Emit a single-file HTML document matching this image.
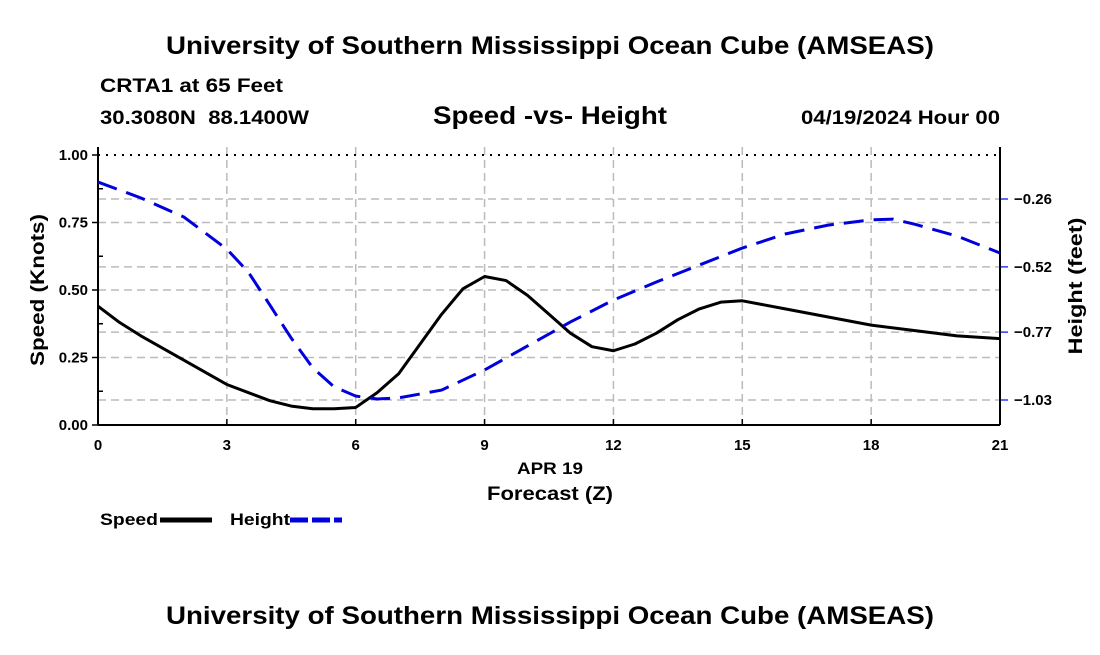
<!DOCTYPE html>
<html><head><meta charset="utf-8"><style>
body{margin:0;background:#fff;}
svg text{font-family:"Liberation Sans",Arial,sans-serif;font-weight:bold;fill:#000;}
</style></head><body>
<svg id="chart" width="1100" height="650" xmlns="http://www.w3.org/2000/svg">
<text x="550" y="54" font-size="25" text-anchor="middle" textLength="768" lengthAdjust="spacingAndGlyphs">University of Southern Mississippi Ocean Cube (AMSEAS)</text>
<text x="100" y="92" font-size="19" textLength="183" lengthAdjust="spacingAndGlyphs">CRTA1 at 65 Feet</text>
<text x="100" y="124" font-size="19" textLength="209" lengthAdjust="spacingAndGlyphs" xml:space="preserve">30.3080N  88.1400W</text>
<text x="550" y="124" font-size="25" text-anchor="middle" textLength="234" lengthAdjust="spacingAndGlyphs">Speed -vs- Height</text>
<text x="1000" y="124" font-size="19" text-anchor="end" textLength="199" lengthAdjust="spacingAndGlyphs">04/19/2024 Hour 00</text>
<g id="grid"></g>
<g id="axes"></g>
<g id="series"></g>
<text x="550" y="474" font-size="17" text-anchor="middle" textLength="66" lengthAdjust="spacingAndGlyphs">APR 19</text>
<text x="550" y="500" font-size="19" text-anchor="middle" textLength="126" lengthAdjust="spacingAndGlyphs">Forecast (Z)</text>
<text x="44" y="290" font-size="19" text-anchor="middle" textLength="152" lengthAdjust="spacingAndGlyphs" transform="rotate(-90 44 290)">Speed (Knots)</text>
<text x="1082" y="286" font-size="19" text-anchor="middle" textLength="137" lengthAdjust="spacingAndGlyphs" transform="rotate(-90 1082 286)">Height (feet)</text>
<g><text x="100" y="525" font-size="17" textLength="58" lengthAdjust="spacingAndGlyphs">Speed</text><line x1="160" y1="520" x2="212" y2="520" stroke="#000" stroke-width="5"/></g>
<g><text x="230" y="525" font-size="17" textLength="60" lengthAdjust="spacingAndGlyphs">Height</text><line x1="290" y1="520" x2="342" y2="520" stroke="#0000dd" stroke-width="5" stroke-dasharray="18,4"/></g>
<text x="550" y="624" font-size="25" text-anchor="middle" textLength="768" lengthAdjust="spacingAndGlyphs">University of Southern Mississippi Ocean Cube (AMSEAS)</text>
</svg>
<script>
const hours=[0,0.5,1,2,3,4,4.5,5,5.5,6,6.5,7,7.5,8,8.5,9,9.5,10,10.5,11,11.5,12,12.5,13,13.5,14,14.5,15,16,17,18,19,20,21];
const speed=[0.44,0.38,0.33,0.24,0.15,0.09,0.07,0.06,0.06,0.065,0.12,0.19,0.30,0.41,0.505,0.55,0.535,0.48,0.41,0.34,0.29,0.275,0.30,0.34,0.39,0.43,0.455,0.46,0.43,0.40,0.37,0.35,0.33,0.32];
const hHours=[0,1,2,3,3.5,4,4.5,5,5.5,6,6.5,7,8,9,10,11,12,13,14,15,16,17,18,18.5,19,20,21];
const height=[-0.195,-0.256,-0.329,-0.452,-0.540,-0.666,-0.793,-0.907,-0.980,-1.015,-1.026,-1.022,-0.992,-0.915,-0.823,-0.731,-0.647,-0.578,-0.513,-0.448,-0.394,-0.360,-0.340,-0.337,-0.356,-0.402,-0.467];
const xTicks=[0,3,6,9,12,15,18,21];
const yTicks=[0,0.25,0.5,0.75,1.0];
const rTicks=[-0.26,-0.52,-0.77,-1.03];
const X0=98,X1=1000,Y0=425,Y1=155;
const xs=h=>X0+(X1-X0)*h/21;
const ys=v=>Y0-(Y0-Y1)*v;
const yr=h=>199+(-0.26-h)*(201/0.77);
const NS='http://www.w3.org/2000/svg';
function mk(parent,tag,attrs){const e=document.createElementNS(NS,tag);for(const k in attrs)e.setAttribute(k,attrs[k]);document.getElementById(parent).appendChild(e);return e;}
xTicks.forEach(t=>{
 if(t>0&&t<21){const g=mk('grid','line',{x1:xs(t),x2:xs(t),y1:147,y2:Y0,stroke:'#bbb','stroke-width':1.5,'stroke-dasharray':'8,5'});
 
 }
 const l=mk('axes','text',{x:xs(t),y:450,'font-size':15,'text-anchor':'middle'});l.textContent=t;
 
 
 mk('axes','line',{x1:xs(t),x2:xs(t),y1:Y0,y2:Y0-6,stroke:'#000','stroke-width':1.5});
});
yTicks.forEach(v=>{
 if(v>0&&v<1){const g=mk('grid','line',{x1:X0,x2:X1,y1:ys(v),y2:ys(v),stroke:'#bbb','stroke-width':1.5,'stroke-dasharray':'8,5'});
 
 }
 mk('axes','line',{x1:X0-6,x2:X0,y1:ys(v),y2:ys(v),stroke:'#000','stroke-width':1.5});
 if(v<1) mk('axes','line',{x1:X0,x2:X0+5,y1:ys(v+0.125),y2:ys(v+0.125),stroke:'#000','stroke-width':1.5});
 const l=mk('axes','text',{x:X0-10,y:ys(v)+5,'font-size':15,'text-anchor':'end'});l.textContent=v.toFixed(2);
 
 
});
rTicks.forEach(v=>{
 const g=mk('grid','line',{x1:X0,x2:X1,y1:yr(v),y2:yr(v),stroke:'#bbb','stroke-width':1.5,'stroke-dasharray':'8,5'});
 
 
 mk('axes','line',{x1:X1,x2:X1+8,y1:yr(v),y2:yr(v),stroke:'#3333ff','stroke-width':1.5});
 const l=mk('axes','text',{x:X1+14,y:yr(v)+5,'font-size':15});l.textContent='\u2212'+Math.abs(v).toFixed(2);
 
 
});
mk('axes','line',{x1:X0,x2:X1,y1:Y1,y2:Y1,stroke:'#000','stroke-width':2,'stroke-dasharray':'2,6'});
mk('axes','line',{x1:X0,x2:X0,y1:147,y2:Y0,stroke:'#000','stroke-width':2});
mk('axes','line',{x1:X1,x2:X1,y1:147,y2:Y0,stroke:'#000','stroke-width':2});
mk('axes','line',{x1:X0,x2:X1,y1:Y0,y2:Y0,stroke:'#000','stroke-width':2});
const sp=mk('series','path',{d:hours.map((h,i)=>(i?'L':'M')+xs(h)+','+ys(speed[i])).join(''),fill:'none',stroke:'#000','stroke-width':3,'stroke-linejoin':'round'});


const hp=mk('series','path',{d:hHours.map((h,i)=>(i?'L':'M')+xs(h)+','+yr(height[i])).join(''),fill:'none',stroke:'#0000dd','stroke-width':3,'stroke-dasharray':'20,10'});


</script>
</body></html>
